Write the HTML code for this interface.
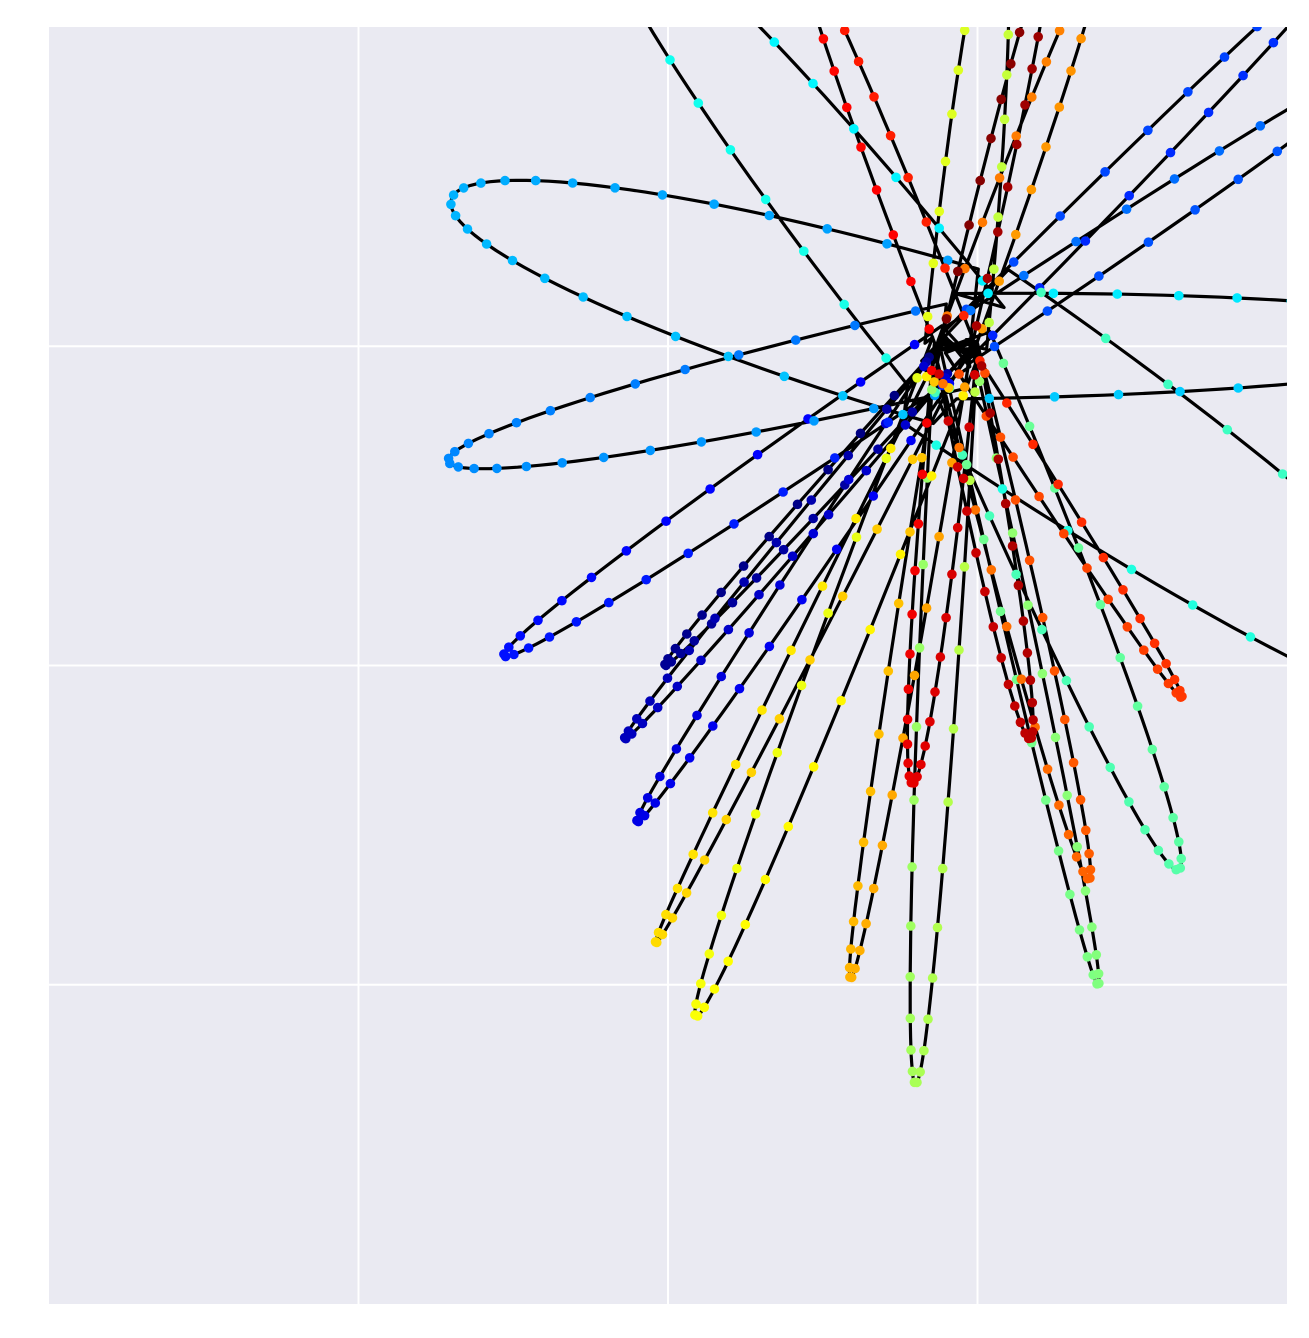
<!DOCTYPE html>
<html><head><meta charset="utf-8">
<style>
html,body{margin:0;padding:0;background:#fff;}
svg{display:block;font-family:"Liberation Sans",sans-serif;}
</style></head>
<body>
<svg id="chart" width="1309" height="1338" viewBox="0 0 1309 1338" xmlns="http://www.w3.org/2000/svg">
<defs><clipPath id="clip"><rect x="49" y="27" width="1238" height="1277"/></clipPath></defs>
<rect x="49" y="27" width="1238" height="1277" fill="#eaeaf2"/>
<g id="grid"></g>
<g id="marks" clip-path="url(#clip)"></g>
</svg>
<script>
// data (axis units: x 0..4, y 0..4)
const centerX = 2.93;
const centerY = 3.0;
const tipX = [1.99,1.86,1.90,1.47,4.20,4.36,1.29,1.30,4.69,1.78,4.69,3.65,3.39,2.80,3.07,2.09,1.96,2.59,3.40,3.36,3.66,2.43,2.79,3.17,3.23];
const tipY = [2.00,1.77,1.51,2.03,4.24,3.92,2.64,3.46,3.02,4.39,1.83,1.36,1.00,0.69,4.39,0.90,1.13,1.02,4.24,1.33,1.90,4.24,1.63,1.77,4.24];
const lobeW = [0.04,0.04,0.05,0.08,0.06,0.07,0.14,0.26,0.17,0.20,0.30,0.12,0.05,0.07,0.10,0.08,0.04,0.05,0.06,0.07,0.04,0.06,0.07,0.07,0.05];
const gridTicks = [1,2,3];

const X0=49, X1=1287, Y0=1304, Y1=27;
const sx = u => X0 + u*(X1-X0)/4;
const sy = v => Y0 - v*(Y0-Y1)/4;
const NS="http://www.w3.org/2000/svg";

function jet(t){
  const r=Math.min(Math.max(Math.min(4*t-1.5,-4*t+4.5),0),1);
  const g=Math.min(Math.max(Math.min(4*t-0.5,-4*t+3.5),0),1);
  const b=Math.min(Math.max(Math.min(4*t+0.5,-4*t+2.5),0),1);
  return `rgb(${Math.round(r*255)},${Math.round(g*255)},${Math.round(b*255)})`;
}

const grid=document.getElementById('grid');
gridTicks.forEach(t=>{
  const lv=document.createElementNS(NS,'line');
  lv.setAttribute('x1',sx(t));lv.setAttribute('x2',sx(t));lv.setAttribute('y1',Y1);lv.setAttribute('y2',Y0);
  lv.setAttribute('stroke','#fff');lv.setAttribute('stroke-width','2');
  
  
  grid.appendChild(lv);
  const lh=document.createElementNS(NS,'line');
  lh.setAttribute('y1',sy(t));lh.setAttribute('y2',sy(t));lh.setAttribute('x1',X0);lh.setAttribute('x2',X1);
  lh.setAttribute('stroke','#fff');lh.setAttribute('stroke-width','2');
  
  
  grid.appendChild(lh);
});

const marks=document.getElementById('marks');
const N=tipX.length, FINE=80, DOT=26;
let pts=[], dots=[];
for(let k=0;k<N;k++){
  const cx=sx(centerX), cy=sy(centerY), tx=sx(tipX[k]), ty=sy(tipY[k]);
  const dx=tx-cx, dy=ty-cy, L=Math.hypot(dx,dy);
  const ux=dx/L, uy=dy/L, nx=-uy, ny=ux;
  const w=lobeW[k]*(X1-X0)/4;
  const f=t=>{const a=L*Math.sin(Math.PI*t), p=w*Math.cos(Math.PI*t);
    return [cx+ux*a+nx*p, cy+uy*a+ny*p];};
  for(let i=0;i<=FINE;i++) pts.push(f(i/FINE));
  for(let i=0;i<DOT;i++) dots.push([...f((i+0.5)/DOT),(k+(i+0.5)/DOT)/N]);
}
const pl=document.createElementNS(NS,'polyline');
pl.setAttribute('points',pts.map(p=>p[0].toFixed(1)+','+p[1].toFixed(1)).join(' '));
pl.setAttribute('fill','none');pl.setAttribute('stroke','#000');pl.setAttribute('stroke-width','3.2');
pl.setAttribute('stroke-linejoin','round');


marks.appendChild(pl);
dots.forEach(d=>{
  const c=document.createElementNS(NS,'circle');
  c.setAttribute('cx',d[0].toFixed(1));c.setAttribute('cy',d[1].toFixed(1));c.setAttribute('r','4.8');
  c.setAttribute('fill',jet(d[2]));
  
  
  marks.appendChild(c);
});
</script>
</body></html>
